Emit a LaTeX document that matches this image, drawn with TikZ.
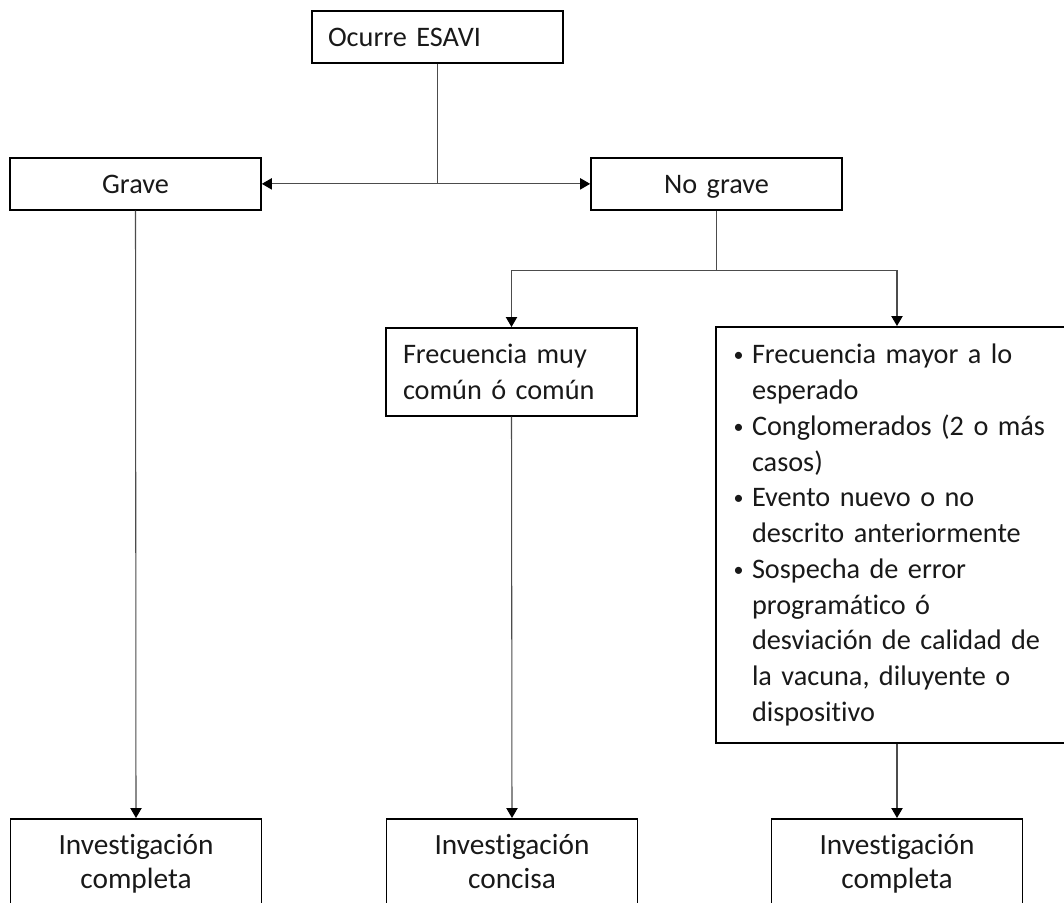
\documentclass[tikz,border=0pt]{standalone}
\usepackage{fontspec}
\setmainfont{Carlito}[Ligatures=CommonOff]
\usetikzlibrary{arrows.meta}

\tikzset{
  box/.style={draw=black, line width=1.3pt, fill=white, inner ysep=0pt,
    text height=27pt, font=\fontsize{21.2pt}{26.8pt}\selectfont,
    text=black!90},
  smallbox/.style={box, minimum width=188.25pt, text width=164.25pt, inner xsep=12pt,
    text depth=12pt},
  arr/.style={draw=black!70, line width=0.8pt,
    -{Triangle[length=7.5pt,width=8.5pt,color=black]}},
  link/.style={draw=black!70, line width=0.8pt}
}

\newcommand{\bul}{\makebox[14.25pt][l]{\hspace*{0.5pt}{\fontsize{15pt}{0pt}\selectfont\raisebox{1.6pt}{•}}}}
\newcommand{\ind}{\hspace*{14.25pt}}

\begin{document}
\begin{tikzpicture}[x=0.75pt, y=-0.75pt]
  \clip (0,0) rectangle (1064,903);
  \fill[white] (0,0) rectangle (1064,903);

  % first level
  \node[smallbox, align=left, anchor=north] (top) at (437.5,10) {Ocurre ESAVI};
  \node[smallbox, align=center, anchor=north] (grave) at (135.5,157) {Grave};
  \node[smallbox, align=center, anchor=north] (nograve) at (716.5,157) {No grave};

  % second level
  \node[smallbox, align=left, anchor=north, inner xsep=12.75pt, text width=162.75pt,
        text depth=39pt] (freq) at (511.5,327) {Frecuencia muy\\común ó común};
  \node[box, align=left, anchor=north, inner xsep=12.75pt, text width=246pt,
        text height=27.75pt, text depth=284.25pt] (crit) at (897,326)
    {\bul Frecuencia mayor a lo\\
     \ind esperado\\
     \bul Conglomerados (2 o más\\
     \ind casos)\\
     \bul Evento nuevo o no\\
     \ind descrito anteriormente\\
     \bul Sospecha de error\\
     \ind programático ó\\
     \ind desviación de calidad de\\
     \ind la vacuna, diluyente o\\
     \ind dispositivo};

  % outcomes
  \tikzset{outbox/.style={smallbox, align=center, anchor=north, text depth=64.5pt,
    font=\fontsize{22pt}{25.5pt}\selectfont}}
  \node[outbox] (out1) at (136,818) {Investigación\\completa};
  \node[outbox] (out2) at (512,818) {Investigación\\concisa};
  \node[outbox] (out3) at (897,818) {Investigación\\completa};

  % connectors
  \coordinate (j1) at (top.south |- grave.east);
  \draw[link] (top.south) -- (j1);
  \draw[arr] (j1) -- (grave.east);
  \draw[arr] (j1) -- (nograve.west);

  \coordinate (j2) at ([yshift=-45pt]nograve.south);
  \draw[link] (nograve.south) -- (j2);
  \draw[arr] (j2) -| (freq.north);
  \draw[arr] (j2) -| (crit.north);

  \draw[arr] (grave.south) -- (out1.north);
  \draw[arr] (freq.south) -- (out2.north);
  \draw[arr] (crit.south) -- (out3.north);
\end{tikzpicture}
\end{document}
